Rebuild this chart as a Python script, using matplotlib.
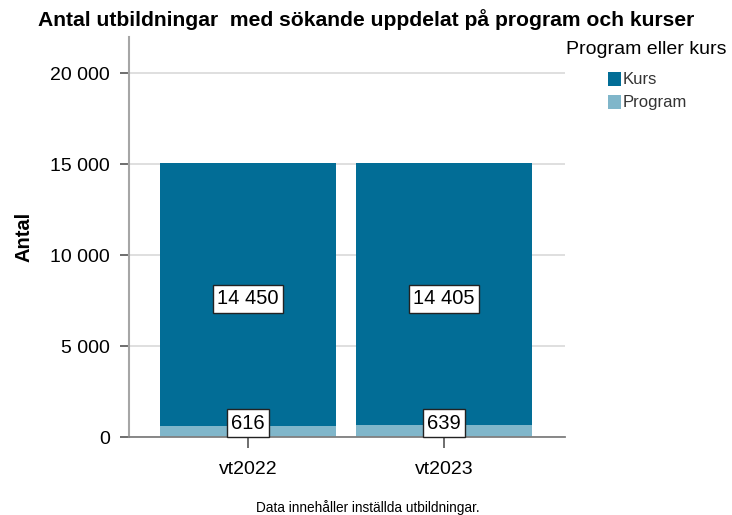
import matplotlib
matplotlib.use("Agg")
import matplotlib.pyplot as plt
from matplotlib.ticker import FuncFormatter, MultipleLocator
from matplotlib.patches import Rectangle

# Data
categories = ["vt2022", "vt2023"]
program = [616, 639]
kurs = [14450, 14405]
series_names = ["Kurs", "Program"]
colors = {"Kurs": "#026d96", "Program": "#80b6ca"}

title = "Antal utbildningar  med sökande uppdelat på program och kurser"
ylabel = "Antal"
legend_title = "Program eller kurs"
footnote = "Data innehåller inställda utbildningar."

plt.rcParams["font.family"] = ["Liberation Sans", "DejaVu Sans"]

W, H = 732, 515
fig = plt.figure(figsize=(W / 100, H / 100), dpi=100)
ax = fig.add_axes([129 / W, 78 / H, (565 - 129) / W, (437 - 37) / H])

x = list(range(len(categories)))
width = 0.898
ax.bar(x, program, width=width, color=colors["Program"], zorder=2)
ax.bar(x, kurs, width=width, bottom=program, color=colors["Kurs"], zorder=2)

fmt = lambda v: f"{v:,.0f}".replace(",", " ")

box = dict(boxstyle="square,pad=0.22", facecolor="white", edgecolor="#222222", linewidth=1.0)
for xi, p, k in zip(x, program, kurs):
    ax.annotate(fmt(k), xy=(xi, p + k / 2), xytext=(0, -3), textcoords="offset points",
                ha="center", va="center", fontsize=14.5, bbox=box, zorder=5)
    ax.annotate(fmt(p), xy=(xi, 0), xytext=(0, 3), textcoords="offset points",
                ha="center", va="bottom", fontsize=14.5, bbox=box, zorder=5)

ax.set_xlim(-0.607, 1.617)
ax.set_ylim(0, 22000)
ax.yaxis.set_major_locator(MultipleLocator(5000))
ax.yaxis.set_major_formatter(FuncFormatter(lambda v, p: fmt(v)))
ax.set_xticks(x)
ax.set_xticklabels(categories)

ax.grid(axis="y", color="#d9d9d9", linewidth=1.2, zorder=0)
ax.set_axisbelow(True)
for s in ["top", "right"]:
    ax.spines[s].set_visible(False)
ax.spines["left"].set_color("#a6a6a6")
ax.spines["left"].set_linewidth(1.5)
ax.spines["bottom"].set_color("#7f7f7f")
ax.spines["bottom"].set_linewidth(1.3)

ax.tick_params(axis="y", length=6.5, width=1.2, color="#555555", labelsize=14, pad=7)
ax.tick_params(axis="x", length=8, width=1.2, color="#555555", labelsize=14, pad=9)

ax.set_ylabel(ylabel, fontsize=14.5, fontweight="bold", labelpad=12)

fig.text(366 / W, 1 - 20 / H, title, ha="center", va="center", fontsize=15.2, fontweight="bold")

# Legend (manual)
fig.text(727 / W, 1 - 50 / H, legend_title, ha="right", va="center", fontsize=14)
for i, name in enumerate(series_names):
    cy = 79 + i * 23
    fig.patches.append(Rectangle((608 / W, 1 - (cy + 7) / H), 13 / W, 14 / H,
                                 transform=fig.transFigure, facecolor=colors[name],
                                 edgecolor="none"))
    fig.text(623 / W, 1 - cy / H, name, ha="left", va="center", fontsize=12, color="#333333")

fig.text(368 / W, 1 - 508 / H, footnote, ha="center", va="center", fontsize=9.8)

fig.savefig("out.png", dpi=100)
